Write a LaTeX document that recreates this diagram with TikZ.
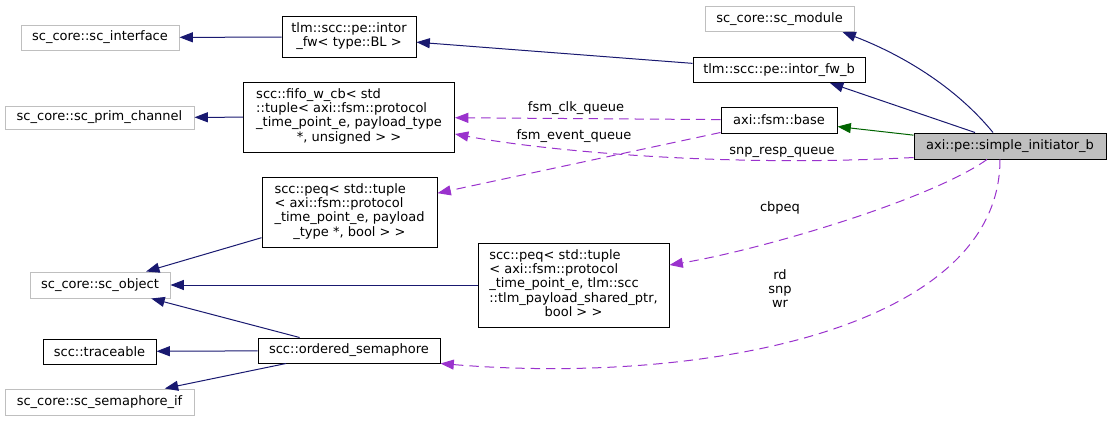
\documentclass[tikz,border=0pt]{standalone}
\usepackage{fontspec}
\setmainfont{DejaVu Sans}
\usetikzlibrary{arrows.meta,calc}

\definecolor{edgeblue}{RGB}{25,25,112}
\definecolor{inhgreen}{RGB}{0,100,0}
\definecolor{usepurple}{RGB}{154,50,205}
\definecolor{extgray}{RGB}{191,191,191}

\begin{document}
\begin{tikzpicture}[x=0.75pt, y=-0.75pt,
        font=\fontsize{9.75}{10.7}\selectfont,
        sz/.style 2 args={minimum width=#1*0.75pt, minimum height=#2*0.75pt},
        cls/.style={draw=black, line width=0.75pt, inner sep=0pt},
        ext/.style={cls, draw=extgray},
        lbl/.style={inner sep=0pt},
        inh/.style={draw=edgeblue, line width=0.75pt, -{Triangle[length=10pt, width=7.5pt]}},
        inhg/.style={inh, draw=inhgreen},
        use/.style={draw=usepurple, line width=0.75pt, dash pattern=on 7pt off 4.5pt,
            -{Triangle[length=10pt, width=7.5pt]}}]
        \useasboundingbox (0,0) rectangle (1111,421);

        \node[ext, sz={158}{25}] (iface) at (100,37.5) {sc\_core::sc\_interface};
        \node[cls, sz={134}{41}] (intorbl) at (349,37) {\begin{tabular}{@{}l@{}}tlm::scc::pe::intor\\ \multicolumn{1}{@{}c@{}}{\_fw< type::BL >}\end{tabular}};
        \node[ext, sz={149}{25}] (module) at (779.5,19) {sc\_core::sc\_module};
        \node[cls, sz={172}{25}] (fwb) at (779,70) {tlm::scc::pe::intor\_fw\_b};
        \node[cls, sz={116}{26}] (base) at (779,120) {axi::fsm::base};
        \node[cls, fill=extgray, sz={192}{26}] (init) at (1010,146) {axi::pe::simple\_initiator\_b};

        \node[ext, sz={189}{23}] (prim) at (99.5,117.5) {sc\_core::sc\_prim\_channel};
        \node[cls, sz={211}{70}] (fifo) at (349,117) {\begin{tabular}{@{}l@{}}scc::fifo\_w\_cb< std\\ ::tuple< axi::fsm::protocol\\ \_time\_point\_e, payload\_type\\ \multicolumn{1}{@{}c@{}}{*, unsigned > >}\end{tabular}};
        \node[cls, sz={175}{70}] (peqa) at (349.5,212) {\begin{tabular}{@{}l@{}}scc::peq< std::tuple\\ < axi::fsm::protocol\\ \_time\_point\_e, payload\\ \multicolumn{1}{@{}c@{}}{\_type *, bool > >}\end{tabular}};
        \node[ext, sz={140}{26}] (object) at (100,285) {sc\_core::sc\_object};
        \node[cls, sz={191}{84}] (peqb) at (573.5,285) {\begin{tabular}{@{}l@{}}scc::peq< std::tuple\\ < axi::fsm::protocol\\ \_time\_point\_e, tlm::scc\\ ::tlm\_payload\_shared\_ptr,\\ \multicolumn{1}{@{}c@{}}{bool > >}\end{tabular}};
        \node[cls, sz={113}{25}] (trace) at (99.5,351.5) {scc::traceable};
        \node[cls, sz={182}{25}] (sema) at (349,350.5) {scc::ordered\_semaphore};
        \node[ext, sz={189}{26}] (semif) at (99.5,402) {sc\_core::sc\_semaphore\_if};

        % inheritance
        \draw[inh] (intorbl) -- (iface);
        \draw[inh] (fwb) -- (intorbl);
        \draw[inh] ($(init.north)+(-17,0)$) .. controls (950,80) and (890,50) .. ($(module.south)+(63,0)$);
        \draw[inh] ($(init.north)+(-35,0)$) -- ($(fwb.south)+(51,0)$);
        \draw[inhg] (init) -- (base);
        \draw[inh] (fifo) -- (prim);
        \draw[inh] (peqa) -- (object);
        \draw[inh] (peqb) -- (object);
        \draw[inh] (sema) -- (object);
        \draw[inh] (sema) -- (trace);
        \draw[inh] (sema) -- (semif);

        % members
        \draw[use] (base) -- (fifo);
        \draw[use] (base) -- (peqa);
        \draw[use] ($(init.south west)+(0,-2)$) .. controls (720,168) and (540,150) .. ($(fifo.east)+(0,17)$);
        \draw[use] ($(init.south)+(-23,0)$) .. controls (930,200) and (760,250) .. ($(peqb.east)+(0,-20)$);
        \draw[use] ($(init.south)+(-10,0)$) .. controls (1000,330) and (700,385) .. (sema.south east);

        \node[lbl] (lclk) at (576,108) {fsm\_clk\_queue};
        \node[lbl] (levent) at (574,136) {fsm\_event\_queue};
        \node[lbl] (lsnp) at (782,152) {snp\_resp\_queue};
        \node[lbl] (lcb) at (780,208) {cbpeq};
        \node[lbl, align=center] (lsema) at (780,288.5) {rd\\snp\\wr};
    \end{tikzpicture}
\end{document}
